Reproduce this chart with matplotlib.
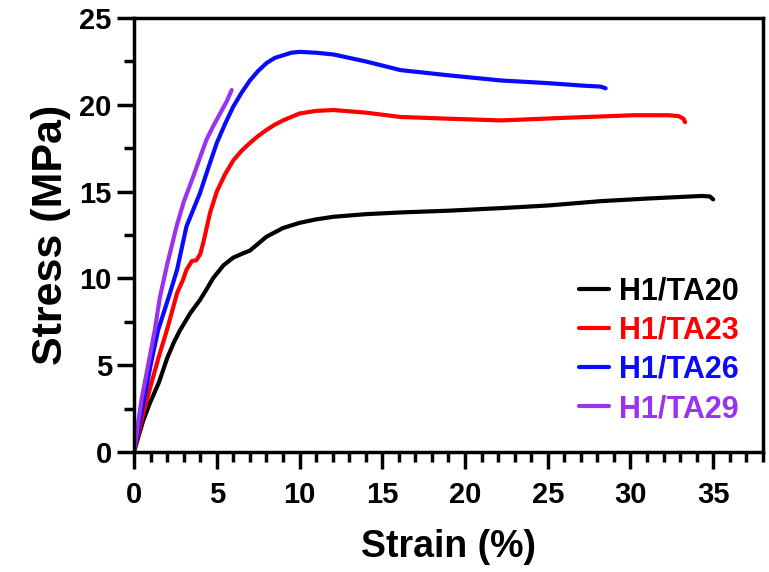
import matplotlib.pyplot as plt
from matplotlib.ticker import MultipleLocator

plt.rcParams['font.family'] = ['Liberation Sans', 'DejaVu Sans']
plt.rcParams['font.weight'] = 'bold'

# Stress-strain curves
strain_ta20 = [0, 0.3, 0.55, 0.95, 1.5, 2.0, 2.4, 2.77, 3.4, 3.98, 4.4, 4.77, 5.4, 6.0, 6.6, 7.0, 7.5,
               8.0, 8.5, 9.0, 9.5, 10.0, 11.0, 12.05, 14.0, 16.1, 19.0, 22.2, 25.0, 28.2, 31.0, 34.3, 34.8, 35.0]
stress_ta20 = [0, 1.0, 1.8, 2.8, 4.0, 5.4, 6.3, 7.0, 8.0, 8.75, 9.4, 10.0, 10.75, 11.2, 11.45, 11.6, 12.0,
               12.4, 12.65, 12.9, 13.05, 13.2, 13.4, 13.55, 13.7, 13.8, 13.9, 14.05, 14.2, 14.45, 14.6, 14.75, 14.72, 14.55]

strain_ta23 = [0, 0.5, 1.0, 1.5, 1.98, 2.3, 2.6, 2.95, 3.17, 3.5, 3.77, 4.0, 4.17, 4.6, 5.0, 5.5, 6.0, 6.5,
               7.0, 7.5, 8.0, 8.5, 9.0, 9.5, 10.0, 11.0, 12.05, 14.0, 16.1, 19.0, 22.2, 26.0, 30.2, 32.3, 32.9,
               33.2, 33.3]
stress_ta23 = [0, 2.0, 3.8, 5.5, 7.0, 8.1, 9.15, 9.9, 10.5, 11.0, 11.05, 11.4, 12.0, 13.8, 15.0, 16.0, 16.8, 17.35,
               17.8, 18.2, 18.55, 18.85, 19.1, 19.3, 19.5, 19.65, 19.7, 19.55, 19.3, 19.2, 19.1, 19.25, 19.4, 19.4, 19.35,
               19.2, 19.0]

strain_ta26 = [0, 0.5, 1.0, 1.45, 2.17, 2.6, 3.17, 3.98, 4.5, 5.0, 5.5, 6.0, 6.5, 7.0, 7.5, 8.0, 8.5, 9.0, 9.5,
               10.0, 11.0, 12.05, 14.0, 16.1, 19.0, 22.2, 25.0, 27.2, 28.2, 28.5]
stress_ta26 = [0, 2.5, 5.0, 7.0, 9.15, 10.5, 13.0, 14.9, 16.4, 17.8, 18.9, 19.9, 20.7, 21.4, 21.95, 22.4, 22.7,
               22.85, 23.0, 23.05, 23.0, 22.9, 22.5, 22.0, 21.7, 21.4, 21.25, 21.1, 21.05, 20.95]

strain_ta29 = [0, 0.45, 1.25, 1.56, 2.0, 2.57, 3.0, 3.57, 4.0, 4.37, 4.8, 5.2, 5.6, 5.9]
stress_ta29 = [0, 3.0, 7.0, 8.9, 10.8, 13.0, 14.4, 15.85, 17.0, 17.97, 18.8, 19.5, 20.2, 20.85]

labels = ['H1/TA20', 'H1/TA23', 'H1/TA26', 'H1/TA29']
colors = ['black', '#ff0000', '#0a0aff', '#9b33ee']

fig = plt.figure(figsize=(7.69, 5.72), dpi=100)
ax = fig.add_axes([0.1743, 0.2098, 0.8177, 0.7587])

curves = [(strain_ta20, stress_ta20), (strain_ta23, stress_ta23),
          (strain_ta26, stress_ta26), (strain_ta29, stress_ta29)]
for (x, y), lab, c in zip(curves, labels, colors):
    ax.plot(x, y, color=c, lw=3.0, label=lab, solid_capstyle='round', solid_joinstyle='round')

ax.set_xlim(0, 38)
ax.set_ylim(0, 25)
ax.xaxis.set_major_locator(MultipleLocator(5))
ax.xaxis.set_minor_locator(MultipleLocator(1))
ax.yaxis.set_major_locator(MultipleLocator(5))
ax.yaxis.set_minor_locator(MultipleLocator(2.5))
ax.tick_params(which='major', direction='out', length=12, width=2.5, labelsize=21, pad=4)
ax.tick_params(axis='x', which='major', pad=9)
ax.tick_params(which='minor', direction='out', length=7, width=2.5)
for s in ax.spines.values():
    s.set_linewidth(2.5)

ax.set_xlabel('Strain (%)', fontsize=27, fontweight='bold', labelpad=14)
ax.set_ylabel('Stress (MPa)', fontsize=31, fontweight='bold', labelpad=6)

leg = ax.legend(loc='lower right', bbox_to_anchor=(0.995, 0.015), frameon=False, fontsize=22,
                handlelength=1.0, handletextpad=0.3, labelspacing=0.3, borderaxespad=0.3)
for t, c in zip(leg.get_texts(), colors):
    t.set_color(c)
    t.set_fontweight('bold')

fig.savefig('out.png', dpi=100)
